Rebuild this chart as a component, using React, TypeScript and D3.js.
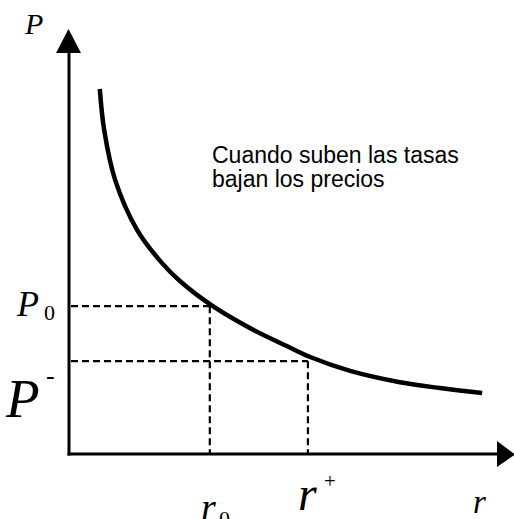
import React from "react";
import * as d3 from "d3";

// Price–rate curve (bond price falls as the interest rate rises)
const rates = [0.7, 0.8, 1.05, 1.55, 2.11, 2.52, 3.27, 4.11, 4.95, 5.48, 6.39, 7.52, 8.43, 9.39];
const prices = [8.69, 7.71, 6.52, 5.33, 4.55, 4.12, 3.52, 3.0, 2.57, 2.31, 1.98, 1.71, 1.57, 1.45];

// Reference levels marked with dashed guides
const r0 = 3.2;
const p0 = 3.52;
const rPlus = 5.43;
const pMinus = 2.21;

const noteLines = ["Cuando suben las tasas", "bajan los precios"];

const W = 514;
const H = 519;

export default function App() {
  const x = d3.scaleLinear().domain([0, 10]).range([69, 509]);
  const y = d3.scaleLinear().domain([0, 10]).range([454, 34]);

  const pts: [number, number][] = rates.map((r, i) => [r, prices[i]]);
  const line = d3
    .line<[number, number]>()
    .x((d) => x(d[0]))
    .y((d) => y(d[1]))
    .curve(d3.curveCatmullRom.alpha(0.5));

  const serif = "'Liberation Serif', 'Times New Roman', serif";
  const sans = "'Liberation Sans', Arial, sans-serif";
  const dash = "7 4";

  const x0 = x(0);
  const y0 = y(0);

  return (
    <svg
      width={W}
      height={H}
      style={{ position: "absolute", left: 0, top: 0, background: "#fff" }}
    >
      {/* dashed guides */}
      <g stroke="#000" strokeWidth={2.2} strokeDasharray={dash} fill="none">
        <line x1={x0 + 2} y1={y(p0)} x2={x(r0)} y2={y(p0)} />
        <line x1={x(r0)} y1={y(p0)} x2={x(r0)} y2={y0} />
        <line x1={x0 + 2} y1={y(pMinus)} x2={x(rPlus)} y2={y(pMinus)} />
        <line x1={x(rPlus)} y1={y(pMinus)} x2={x(rPlus)} y2={y0} />
      </g>

      {/* axes */}
      <g stroke="#000" strokeWidth={3} fill="none">
        <line x1={x0} y1={y0 + 1.5} x2={x0} y2={50} />
        <line x1={x0 - 1.5} y1={y0} x2={498} y2={y0} />
      </g>
      <path d={`M${x0 - 0.5},29 L${x0 - 13},53 L${x0 + 12},53 Z`} fill="#000" />
      <path d={`M515,${y0 + 0.5} L497,${y0 - 13} L497,${y0 + 13} Z`} fill="#000" />

      {/* curve */}
      <path
        d={line(pts) ?? ""}
        fill="none"
        stroke="#000"
        strokeWidth={4.5}
        strokeLinecap="butt"
      />

      {/* note */}
      <g fontFamily={sans} fontSize={23} fill="#000">
        {noteLines.map((t, i) => (
          <text key={t} x={212} y={163 + i * 24}>
            {t}
          </text>
        ))}
      </g>

      {/* axis labels */}
      <g fontFamily={serif} fontStyle="italic" fill="#000">
        <text x={25} y={34} fontSize={30}>P</text>
        <text x={17} y={316} fontSize={36}>P</text>
        <text x={44} y={320} fontSize={22} fontStyle="normal">0</text>
        <text x={6} y={417} fontSize={55}>P</text>
        <text x={46} y={384} fontSize={26} fontStyle="normal">-</text>

        <text x={201} y={520} fontSize={38}>r</text>
        <text x={219} y={526} fontSize={22} fontStyle="normal">0</text>
        <text x={298} y={510} fontSize={48}>r</text>
        <text x={324} y={488} fontSize={21} fontStyle="normal">+</text>
        <text x={473} y={513} fontSize={33}>r</text>
      </g>
    </svg>
  );
}
